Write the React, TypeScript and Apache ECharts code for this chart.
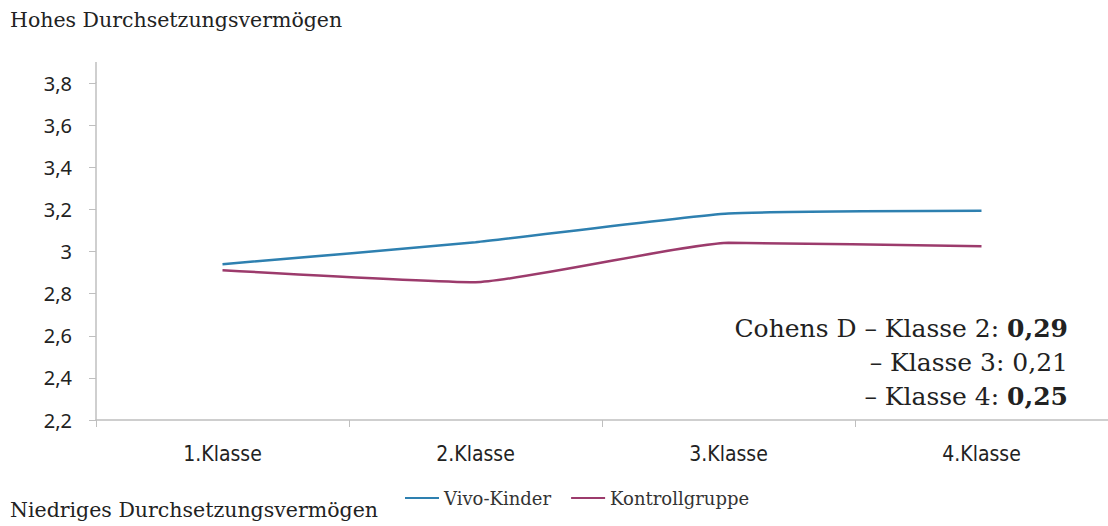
import React, { useEffect, useRef } from "react";
import * as echarts from "echarts";

const categories = ["1.Klasse", "2.Klasse", "3.Klasse", "4.Klasse"];
const vivoKinder = [2.94, 3.044, 3.18, 3.193];
const kontrollgruppe = [2.911, 2.854, 3.041, 3.025];
const yTicks = { min: 2.2, max: 3.8, interval: 0.2 };
const seriesNames = ["Vivo-Kinder", "Kontrollgruppe"];
const topLabel = "Hohes Durchsetzungsvermögen";
const bottomLabel = "Niedriges Durchsetzungsvermögen";
const cohens = [
  { prefix: "Cohens D – Klasse 2: ", value: "0,29", bold: true },
  { prefix: "– Klasse 3: ", value: "0,21", bold: false },
  { prefix: "– Klasse 4: ", value: "0,25", bold: true },
];

const SERIF = "'DejaVu Serif', 'Liberation Serif', serif";
const SANS = "'Noto Sans', 'Open Sans', sans-serif";
const NARROW = "'Liberation Sans Narrow', 'DejaVu Sans Condensed', 'Liberation Sans', sans-serif";
const BLUE = "#2e80b0";
const MAROON = "#9c3b6c";
const AXIS = "#bfbfbf";

export default function App() {
  const ref = useRef<HTMLDivElement>(null);
  useEffect(() => {
    document.body.style.margin = "0";
    if (!ref.current) return;
    const chart = echarts.init(ref.current, undefined, { renderer: "svg" });
    const cohensTexts = cohens.map((c, i) => ({
      type: "text",
      right: 40,
      top: 316 + i * 34,
      style: {
        text: `{a|${c.prefix}}{${c.bold ? "b" : "a"}|${c.value}}`,
        rich: {
          a: { fontFamily: SERIF, fontSize: 25, fill: "#222", fontWeight: "normal" },
          b: { fontFamily: SERIF, fontSize: 25, fill: "#222", fontWeight: "bold" },
        },
      },
    }));
    chart.setOption({
      animation: false,
      backgroundColor: "#fff",
      grid: { left: 96, top: 83, right: -8, bottom: 106 },
      legend: {
        data: seriesNames,
        left: 400,
        top: 484,
        icon: "rect",
        itemWidth: 34,
        itemHeight: 2,
        itemGap: 20,
        textStyle: { fontFamily: SERIF, fontSize: 18, color: "#333" },
      },
      xAxis: {
        type: "category",
        data: categories,
        boundaryGap: true,
        axisLine: { lineStyle: { color: AXIS, width: 1.5 } },
        axisTick: { show: true, length: 7, lineStyle: { color: AXIS } },
        axisLabel: { fontFamily: NARROW, fontSize: 21, color: "#222", margin: 23 },
      },
      yAxis: {
        type: "value",
        min: yTicks.min,
        max: yTicks.max,
        interval: yTicks.interval,
        axisLine: { show: true, lineStyle: { color: AXIS, width: 1.5 } },
        axisTick: { show: true, length: 7, lineStyle: { color: AXIS } },
        splitLine: { show: false },
        axisLabel: {
          fontFamily: SANS,
          fontSize: 20,
          color: "#222",
          margin: 24,
          formatter: (v: number) => String(Math.round(v * 10) / 10).replace(".", ","),
        },
      },
      series: [
        {
          name: seriesNames[0],
          type: "line",
          data: vivoKinder,
          smooth: 0.15,
          symbol: "none",
          lineStyle: { color: BLUE, width: 2.5 },
          itemStyle: { color: BLUE },
        },
        {
          name: seriesNames[1],
          type: "line",
          data: kontrollgruppe,
          smooth: 0.15,
          symbol: "none",
          lineStyle: { color: MAROON, width: 2.5 },
          itemStyle: { color: MAROON },
        },
      ],
      graphic: [
        {
          type: "line",
          shape: { x1: 96, y1: 62, x2: 96, y2: 83 },
          style: { stroke: AXIS, lineWidth: 1.5 },
        },
        {
          type: "text",
          left: 10,
          top: 9,
          style: { text: topLabel, fontFamily: SERIF, fontSize: 20.5, fill: "#222" },
        },
        {
          type: "text",
          left: 10,
          top: 499,
          style: { text: bottomLabel, fontFamily: SERIF, fontSize: 20.5, fill: "#222" },
        },
        ...cohensTexts,
      ],
    });
    return () => chart.dispose();
  }, []);
  return <div ref={ref} style={{ width: 1108, height: 526 }} />;
}
